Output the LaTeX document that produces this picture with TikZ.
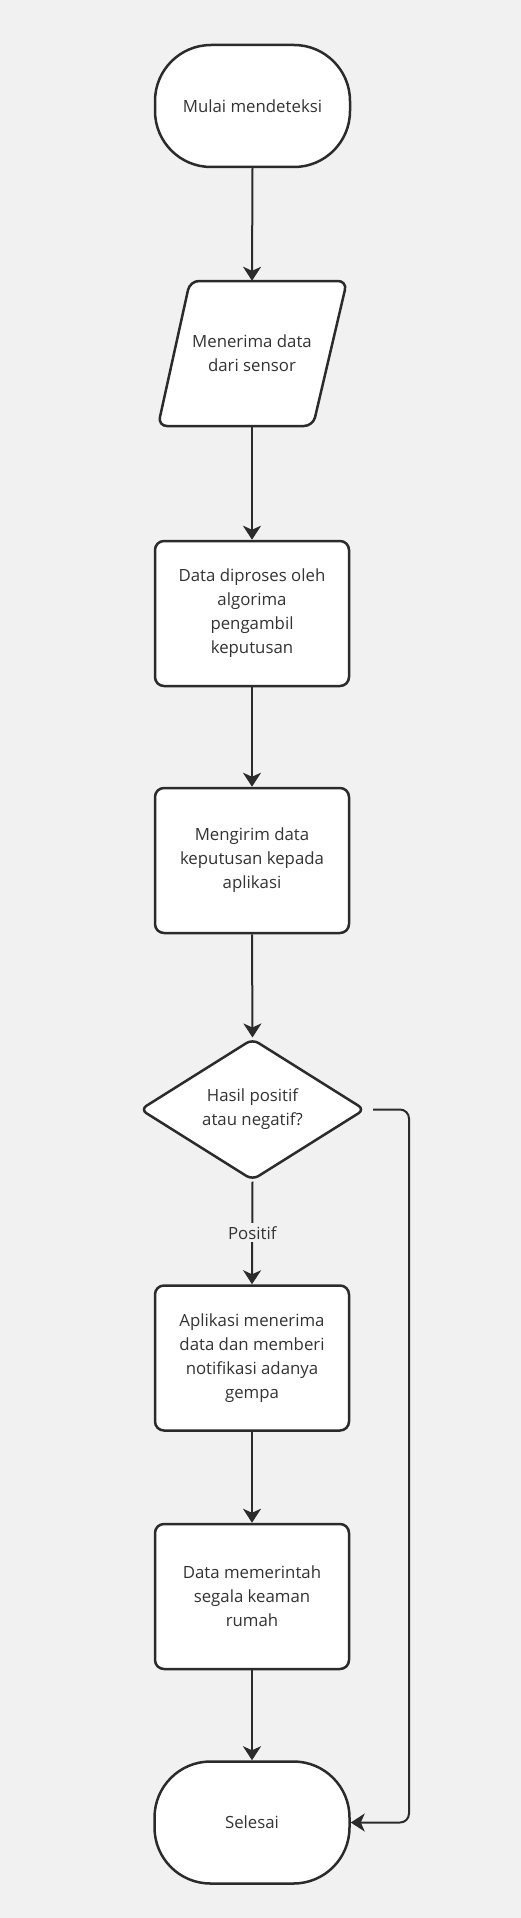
\documentclass[tikz,border=0pt]{standalone}
\usepackage{fontspec}
\setmainfont{Open Sans}
\usetikzlibrary{shapes.geometric,arrows.meta}
\definecolor{bg}{HTML}{F1F1F1}
\definecolor{ln}{HTML}{2B2B2B}
\definecolor{tx}{HTML}{333333}
\begin{document}
\begin{tikzpicture}[x=1pt,y=-1pt,
  every node/.style={font=\fontsize{16.8}{24}\selectfont, text=tx, align=center},
  shp/.style={draw=ln, line width=2.5pt, fill=white},
  term/.style={shp, rectangle, rounded corners=56pt, minimum width=195pt, minimum height=122pt, inner sep=0pt},
  proc/.style={shp, rectangle, rounded corners=9pt, minimum width=194pt, minimum height=145pt, inner sep=0pt},
  dec/.style={shp, diamond, rounded corners=7pt, minimum width=225pt, minimum height=141pt, inner sep=0pt},
  io/.style={rectangle, minimum width=150pt, minimum height=145pt, inner sep=0pt},
  conn/.style={draw=ln, line width=2pt, -{Stealth[length=14pt,width=18pt,inset=4pt]}},
  lbl/.style={fill=bg, inner sep=3pt}
]
\fill[bg] (0,0) rectangle (521,1918);
\useasboundingbox (0,0) rectangle (521,1918);

\node[term] (start) at (252.5,106) {Mulai mendeteksi};
\node[io] (inp) at (252,353.5) {};
\draw[shp, rounded corners=9pt] (190,281) -- (347,281) -- (313,426) -- (158,426) -- cycle;
\node[io] at (252,353.5) {Menerima data\\dari sensor};
\node[proc] (p1) at (252,613.5) {Data diproses oleh\\algorima\\pengambil\\keputusan};
\node[proc] (p2) at (252,860.5) {Mengirim data\\keputusan kepada\\aplikasi};
\node[dec] (d) at (252.5,1109.5) {Hasil positif\\atau negatif?};
\node[proc] (p3) at (252,1358) {Aplikasi menerima\\data dan memberi\\notifikasi adanya\\gempa};
\node[proc] (p4) at (252,1596.5) {Data memerintah\\segala keaman\\rumah};
\node[term] (end) at (252,1822.5) {Selesai};

\coordinate (s0) at (373,1109.5);
\coordinate (s1) at (409,1109.5);
\coordinate (s2) at (409,1822.5);

\draw[conn] (start.south) -- (inp.north);
\draw[conn] (inp.south) -- (p1.north);
\draw[conn] (p1.south) -- (p2.north);
\draw[conn] (p2.south) -- (d.north);
\draw[conn] (d.south) -- node[lbl] {Positif} (p3.north);
\draw[conn] (p3.south) -- (p4.north);
\draw[conn] (p4.south) -- (end.north);
\draw[conn, rounded corners=9pt] (s0) -- (s1) -- (s2) -- (end.east);
\end{tikzpicture}
\end{document}
